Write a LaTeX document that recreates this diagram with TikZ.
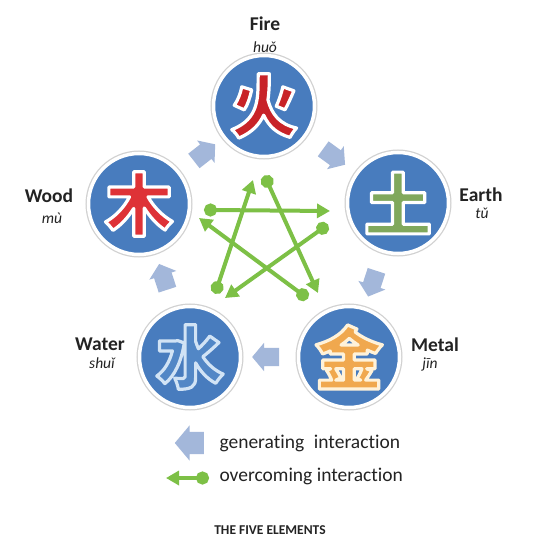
\documentclass[tikz,border=0pt]{standalone}
\usepackage{fontspec}
\setmainfont{Carlito}[Ligatures=NoCommon]
\newfontfamily\cjk{Noto Sans CJK SC}
\usepackage{xcolor}
\usetikzlibrary{shapes,arrows,positioning,calc,arrows.meta}

\definecolor{elemblue}{RGB}{72,124,190}
\definecolor{genblue}{RGB}{163,183,218}
\definecolor{stargreen}{RGB}{125,192,70}
\definecolor{textgray}{RGB}{35,35,35}
\definecolor{firered}{RGB}{200,35,40}
\definecolor{woodred}{RGB}{222,50,55}
\definecolor{earthgreen}{RGB}{128,168,92}
\definecolor{metalgold}{RGB}{240,168,78}
\definecolor{waterblue}{RGB}{82,135,198}

% glyph filled in #1, stroked with a light rim (rgb numbers #2)
\newcommand\rimglyph[3]{{\color{#1}%
  \special{pdf:literal direct 2 Tr 3.2 w 1 j #2 RG}#3%
  \special{pdf:literal direct 0 Tr}}}

\tikzset{
  element/.style={circle, fill=elemblue, draw=white, line width=3.5pt,
    minimum size=101pt, inner sep=0pt,
    font=\cjk\bfseries\fontsize{68}{68}\selectfont,
    preaction={draw=black!18, line width=6pt}},
  elemname/.style={font=\bfseries\fontsize{19.5}{19.5}\selectfont, text=textgray},
  pinyin/.style={font=\itshape\fontsize{15.5}{15.5}\selectfont, text=textgray},
  genarrow/.style={single arrow, fill=genblue, inner xsep=0pt, inner ysep=9pt,
    minimum height=27pt, single arrow head extend=5pt,
    single arrow tip angle=100, single arrow head indent=0pt},
  overcome/.style={draw=stargreen, line width=4pt, shorten <=-6pt,
    {Circle[length=13pt]}-{Triangle[length=13pt,width=14pt]}},
  legendtxt/.style={anchor=west, font=\fontsize{19.5}{19.5}\selectfont, text=textgray}
}

\begin{document}
\begin{tikzpicture}[x=1pt, y=-1pt]
    \fill[white] (0,0) rectangle (540,540);
    \useasboundingbox (0,0) rectangle (540,540);

    % the five elements
    \node[element] (fire)  at (264,106) {\rimglyph{firered}{1 1 1}{火}};
    \node[element] (earth) at (398,203) {\rimglyph{earthgreen}{1 1 1}{土}};
    \node[element] (metal) at (349,357) {\rimglyph{metalgold}{1 0.95 0.85}{金}};
    \node[element] (water) at (190,357) {\rimglyph{waterblue}{0.82 0.89 0.96}{水}};
    \node[element] (wood)  at (139,204) {\rimglyph{woodred}{1 1 1}{木}};

    \node[elemname] (fireN)  at (265,24)  {Fire};
    \node[pinyin]   (fireP)  at (265,47)  {huǒ};
    \node[elemname] (earthN) at (481,195) {Earth};
    \node[pinyin]   (earthP) at (482,213) {tǔ};
    \node[elemname] (metalN) at (435,345) {Metal};
    \node[pinyin]   (metalP) at (430,364) {jīn};
    \node[elemname] (waterN) at (100,344) {Water};
    \node[pinyin]   (waterP) at (102,363) {shuǐ};
    \node[elemname] (woodN)  at (49,196)  {Wood};
    \node[pinyin]   (woodP)  at (52,218)  {mù};

    % generating cycle
    \node[genarrow, rotate=38]   (genWF) at ($(wood)!0.5!(fire)$)   {};
    \node[genarrow, rotate=-36]  (genFE) at ($(fire)!0.5!(earth)$)  {};
    \node[genarrow, rotate=-108] (genEM) at ($(earth)!0.5!(metal)$) {};
    \node[genarrow, rotate=180]  (genMW) at ($(metal)!0.5!(water)$) {};
    \node[genarrow, rotate=108]  (genWW) at ($(water)!0.5!(wood)$)  {};

    % overcoming star
    \coordinate (sFire)  at (267,181);  \coordinate (tMetal) at (318,293);
    \coordinate (sMetal) at (303,295);  \coordinate (tWood)  at (199,218);
    \coordinate (sWood)  at (210,210);  \coordinate (tEarth) at (330,211);
    \coordinate (sEarth) at (323,228);  \coordinate (tWater) at (225,298);
    \coordinate (sWater) at (217,288);  \coordinate (tFire)  at (253,180);
    \draw[overcome] (sFire)  -- (tMetal);
    \draw[overcome] (sMetal) -- (tWood);
    \draw[overcome] (sWood)  -- (tEarth);
    \draw[overcome] (sEarth) -- (tWater);
    \draw[overcome] (sWater) -- (tFire);

    % legend
    \node[genarrow, rotate=180, minimum height=29pt, inner ysep=11pt,
          single arrow head extend=6.5pt] (legGen) at (194,443) {};
    \node[legendtxt] (legGenT) at (216,443) {generating\hspace{0.5em}interaction};
    \coordinate (legDot) at (203,478);
    \coordinate (legTip) at (166,478);
    \draw[overcome] (legDot) -- (legTip);
    \node[legendtxt] (legOvT) at (216,476) {overcoming interaction};

    \node[font=\bfseries\fontsize{13.5}{13.5}\selectfont, text=textgray] (title) at (270,530) {THE FIVE ELEMENTS};
\end{tikzpicture}
\end{document}
